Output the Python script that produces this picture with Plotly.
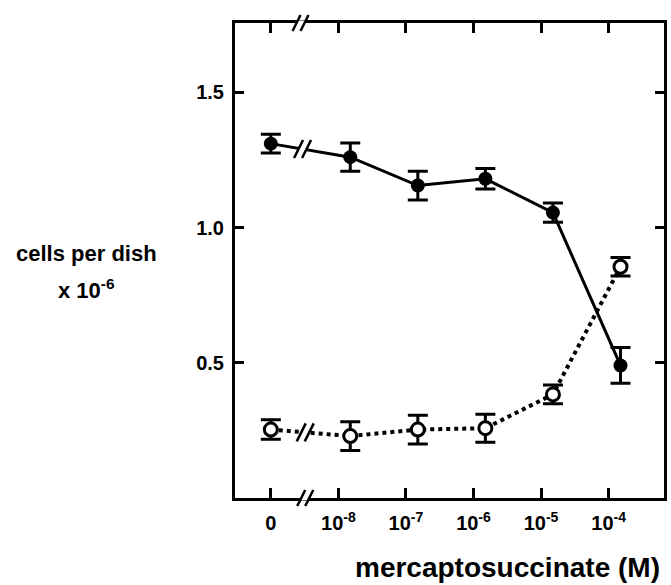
import math
import plotly.graph_objects as go

# ---- data ----
concentrations = [0, 1.5e-8, 1.5e-7, 1.5e-6, 1.5e-5, 1.5e-4]   # M
closed_mean = [1.31, 1.26, 1.155, 1.18, 1.055, 0.49]            # cells per dish x 1e-6
closed_err = [0.035, 0.052, 0.053, 0.038, 0.036, 0.066]
open_mean = [0.253, 0.229, 0.253, 0.258, 0.383, 0.855]
open_err = [0.036, 0.053, 0.053, 0.052, 0.035, 0.034]
tick_values = [0, 1e-8, 1e-7, 1e-6, 1e-5, 1e-4]
tick_labels = ["0", "10<sup>-8</sup>", "10<sup>-7</sup>", "10<sup>-6</sup>",
               "10<sup>-5</sup>", "10<sup>-4</sup>"]
y_ticks = [0.5, 1.0, 1.5]
y_tick_labels = ["0.5", "1.0", "1.5"]

ZERO_POS = -9  # axis position standing in for concentration 0 (axis break)


def xpos(c):
    return ZERO_POS if c == 0 else math.log10(c)


xs = [xpos(c) for c in concentrations]
xt = [xpos(c) for c in tick_values]

FONT = "Liberation Sans, Arial, sans-serif"

fig = go.Figure()
fig.add_trace(go.Scatter(
    x=xs, y=closed_mean, mode="lines+markers",
    line=dict(color="black", width=3),
    marker=dict(symbol="circle", size=14, color="black"),
    error_y=dict(type="data", array=closed_err, visible=True,
                 color="black", thickness=3, width=10),
    showlegend=False,
))
fig.add_trace(go.Scatter(
    x=xs, y=open_mean, mode="lines+markers",
    line=dict(color="black", width=4, dash="dot"),
    marker=dict(symbol="circle", size=13, color="white",
                line=dict(color="black", width=3)),
    error_y=dict(type="data", array=open_err, visible=True,
                 color="black", thickness=3, width=10),
    showlegend=False,
))


def break_mark(xa, ya, yref, half=3.0, tall=8):
    """Two slashes with a white gap, anchored at (xa, ya), sizes in pixels."""
    h = half
    k = 0.5  # x shift per pixel of y (slant)
    gap = ("M {a},{b} L {c},{b} L {d},{e} L {f},{e} Z"
           .format(a=-4 - k * h, b=-h, c=4 - k * h, d=4 + k * h, e=h, f=-4 + k * h))
    shapes = [dict(type="path", xref="x", yref=yref, xsizemode="pixel",
                   ysizemode="pixel", xanchor=xa, yanchor=ya, path=gap,
                   fillcolor="white", line=dict(width=0), layer="above")]
    for c in (-4, 4):
        shapes.append(dict(type="line", xref="x", yref=yref, xsizemode="pixel",
                           ysizemode="pixel", xanchor=xa, yanchor=ya,
                           x0=c - k * tall, y0=-tall, x1=c + k * tall, y1=tall,
                           line=dict(color="black", width=2.5), layer="above"))
    return shapes


def interp(x, xa, ya, xb, yb):
    return ya + (yb - ya) * (x - xa) / (xb - xa)


shapes = []
shapes += break_mark(-8.56, 1, "paper", half=2.6)
shapes += break_mark(-8.49, 0, "paper", half=2.6)
bx_c = -8.53
shapes += break_mark(bx_c, interp(bx_c, xs[0], closed_mean[0], xs[1], closed_mean[1]), "y", half=3, tall=9)
bx_o = -8.49
shapes += break_mark(bx_o, interp(bx_o, xs[0], open_mean[0], xs[1], open_mean[1]), "y", half=3, tall=9)

fig.update_layout(
    width=671, height=585,
    margin=dict(l=235, r=4, t=23, b=87),
    plot_bgcolor="white", paper_bgcolor="white",
    font=dict(family=FONT, color="black", size=20, weight="bold"),
    shapes=shapes,
    xaxis=dict(
        range=[-9.53, -3.18], showgrid=False, zeroline=False,
        showline=True, linewidth=3, linecolor="black", mirror="ticks",
        ticks="inside", ticklen=10, tickwidth=3, tickcolor="black",
        tickmode="array", tickvals=xt, ticktext=tick_labels,
        tickfont=dict(family=FONT, size=20, weight="bold"),
        ticklabelstandoff=5,
    ),
    yaxis=dict(
        range=[0, 1.756], showgrid=False, zeroline=False,
        showline=True, linewidth=3, linecolor="black", mirror="ticks",
        ticks="inside", ticklen=9, tickwidth=3, tickcolor="black",
        tickmode="array", tickvals=y_ticks, ticktext=y_tick_labels,
        tickfont=dict(family=FONT, size=20, weight="bold"),
        ticklabelstandoff=4,
    ),
    annotations=[
        dict(text="cells per dish", xref="paper", yref="paper",
             x=-0.3465, y=0.5137, xanchor="center", yanchor="middle",
             showarrow=False, font=dict(family=FONT, size=22, weight="bold")),
        dict(text="x 10<sup>-6</sup>", xref="paper", yref="paper",
             x=-0.3465, y=0.440, xanchor="center", yanchor="middle",
             showarrow=False, font=dict(family=FONT, size=22, weight="bold")),
        dict(text="mercaptosuccinate (M)", xref="paper", yref="paper",
             x=0.635, y=-0.147, xanchor="center", yanchor="middle",
             showarrow=False, font=dict(family=FONT, size=28, weight="bold")),
    ],
)

fig.write_html("out.html", config={"displayModeBar": False},
               post_script="document.body.style.margin='0';")
